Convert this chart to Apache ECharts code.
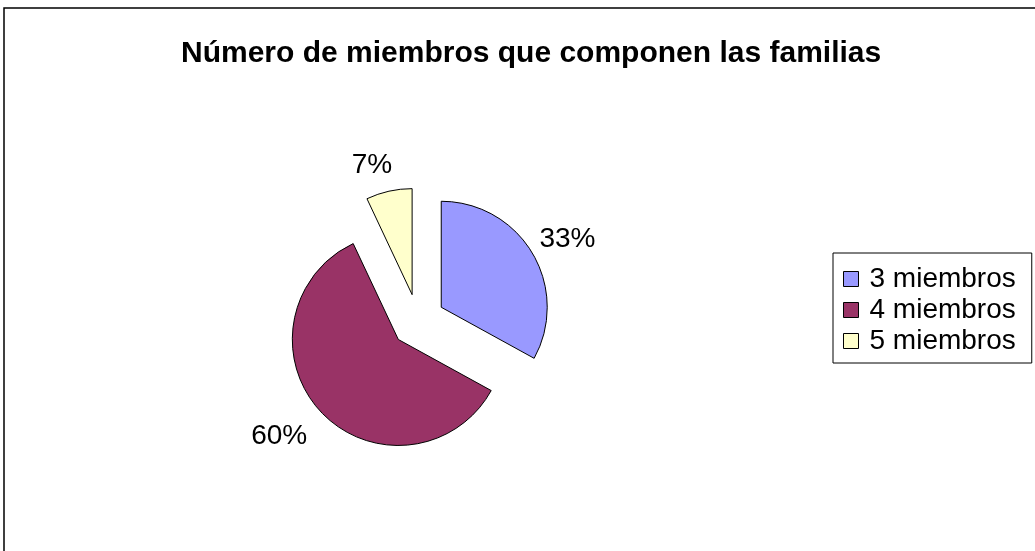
<!DOCTYPE html>
<html><head><meta charset="utf-8">
<script src="https://cdn.jsdelivr.net/npm/echarts@6/dist/echarts.min.js"></script>
<style>html,body{margin:0;padding:0;background:#fff}#c{width:1035px;height:551px}</style>
</head><body><div id="c"></div>
<script>
const titleText = 'Número de miembros que componen las familias';
const categories = ['3 miembros', '4 miembros', '5 miembros'];
const values = [33, 60, 7];
const colors = ['#9999FF', '#993366', '#FFFFCC'];
const labelLens = [22, 30, 27];
const labelShifts = [[-14, -3], [10, 4], [11, 0]];

const chart = echarts.init(document.getElementById('c'), null, {renderer: 'canvas'});
const font = '"Liberation Sans", Arial, sans-serif';
chart.setOption({
  animation: false,
  backgroundColor: '#fff',
  title: {
    text: titleText, left: 176, top: 34,
    textStyle: {fontFamily: font, fontWeight: 'bold', fontSize: 30, color: '#000'}
  },
  legend: {
    orient: 'vertical', left: 833, top: 253,
    padding: [12, 16, 8, 10],
    borderColor: '#000', borderWidth: 1,
    itemWidth: 15, itemHeight: 15, itemGap: 3,
    icon: 'rect',
    itemStyle: {borderColor: '#000', borderWidth: 1},
    textStyle: {fontFamily: font, fontSize: 28, color: '#000', padding: [0, 0, 0, 6]},
    data: categories
  },
  graphic: [{
    type: 'rect', shape: {x: 4, y: 8, width: 1100, height: 600},
    style: {fill: 'none', stroke: '#000', lineWidth: 1.5}, silent: true, z: -1
  }],
  series: [{
    type: 'pie',
    center: [418, 321], radius: 106,
    startAngle: 90, clockwise: true,
    selectedMode: 'multiple', selectedOffset: 27,
    avoidLabelOverlap: false,
    itemStyle: {borderColor: '#000', borderWidth: 1},
    label: {
      show: true, position: 'outside', formatter: '{d}%',
      fontFamily: font, fontSize: 28, color: '#000', distanceToLabelLine: 2
    },
    labelLine: {show: false, length2: 0},
    labelLayout: function (p) {
      return {dx: labelShifts[p.dataIndex][0], dy: labelShifts[p.dataIndex][1]};
    },
    emphasis: {disabled: true},
    data: categories.map((c, i) => ({
      name: c, value: values[i], selected: true,
      itemStyle: {color: colors[i]},
      labelLine: {show: false, length: labelLens[i], length2: 0}
    }))
  }]
});
</script></body></html>
